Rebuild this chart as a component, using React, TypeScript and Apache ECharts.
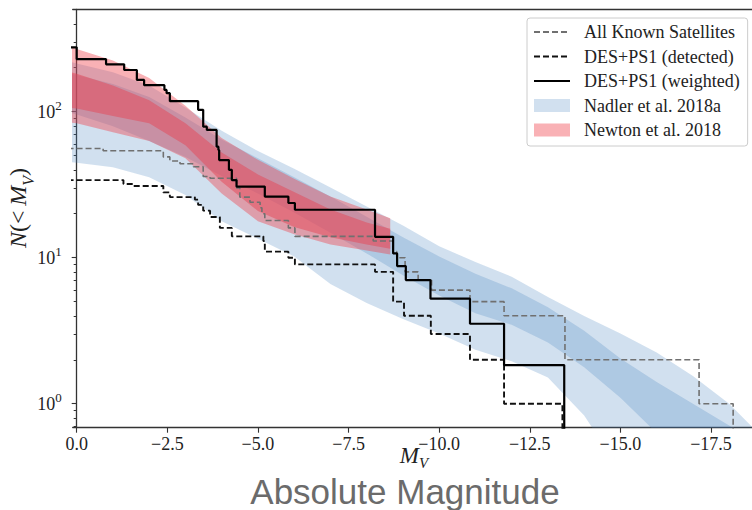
import React, { useEffect, useRef } from "react";
import * as echarts from "echarts";

const SERIF = "'Liberation Serif', 'DejaVu Serif', serif";
const TEXT = "#222222";

// Cumulative satellite counts N(<M_V). Each count holds from its edge towards brighter M_V.
const allKnownEdges = [0.5, -0.73, -2.39, -2.57, -2.85, -3.22, -3.49, -3.68, -4.41, -4.5, -4.78, -5.06, -5.11, -5.19, -5.84, -6.02, -8.18, -8.73, -8.83, -9.06, -9.42, -9.79, -10.85, -11.79, -13.47, -17.17, -18.11];
const allKnownCounts = [56, 54, 49, 46, 44, 42, 36, 35, 30, 26, 24, 22, 20, 18, 16, 14, 13, 11, 10, 8, 7, 6, 5, 4, 2, 1, 0];

const detectedEdges = [0.5, -1.29, -1.56, -2.39, -2.57, -3.26, -3.35, -3.49, -3.68, -3.95, -4.28, -5.15, -5.19, -5.84, -6.02, -8.23, -8.73, -9.03, -9.77, -10.85, -11.79, -13.4];
const detectedCounts = [34, 32, 31, 28, 26, 25, 23, 21, 19, 16, 14, 13, 11, 10, 9, 8, 5, 4, 3, 2, 1, 0];

const weightedEdges = [0.5, 0, -0.81, -1.31, -1.66, -1.86, -2.42, -2.48, -2.57, -3.35, -3.49, -3.59, -3.86, -3.91, -3.93, -4.2, -4.28, -4.41, -5.19, -5.84, -6.02, -8.23, -8.73, -8.84, -9.08, -9.76, -10.85, -11.79, -13.45];
const weightedCounts = [276, 229, 211, 193, 165, 152, 141, 134, 118, 103, 79, 75, 57.6, 54.7, 46.6, 40, 34, 30.7, 26.2, 23.7, 21.3, 13.9, 10.7, 8.76, 7.03, 5.24, 3.53, 1.84, 0];

// Nadler et al. 2018a prediction: outer and inner confidence bands
const nadlerMv = [0.3, 0, -1, -2, -3, -4, -5, -6, -7, -8, -9, -10, -11, -12, -13, -14, -15, -16, -17, -18, -19];
const nadlerOuterHigh = [224, 214, 186, 151, 107, 74.1, 53.7, 40.7, 30.2, 22.4, 16.6, 12.0, 9.33, 7.41, 5.37, 3.98, 3.02, 2.24, 1.55, 1.0, 0.56];
const nadlerOuterLow = [45.7, 44.7, 41.7, 35.5, 26.9, 17.8, 13.5, 10.2, 6.61, 4.9, 3.8, 3.02, 2.34, 1.95, 1.51, 0.83, 0.35, 0.2, 0.15, 0.1, 0.08];
const nadlerInnerHigh = [186, 178, 155, 126, 91.2, 64.6, 47.9, 35.5, 26.3, 19.1, 13.8, 10.2, 7.76, 6.17, 4.57, 3.16, 2.04, 1.41, 1.0, 0.71, 0.5];
const nadlerInnerLow = [100, 95.5, 79.4, 63.1, 49.0, 36.3, 27.5, 20.4, 14.8, 10.7, 7.59, 5.5, 4.17, 3.47, 2.63, 1.78, 1.1, 0.63, 0.4, 0.3, 0.2];

// Newton et al. 2018 prediction
const newtonMv = [0.3, 0, -1, -2, -3, -4, -5, -6, -7, -8, -8.65];
const newtonOuterHigh = [288, 269, 224, 170, 110, 66.1, 46.8, 34.7, 26.3, 21.4, 18.6];
const newtonOuterLow = [85.1, 83.2, 72.4, 63.1, 47.9, 27.5, 17.8, 14.5, 12.3, 11.2, 10.5];
const newtonInnerHigh = [191, 182, 151, 120, 83.2, 52.5, 37.2, 28.2, 21.4, 17.4, 15.8];
const newtonInnerLow = [107, 105, 93.3, 83.2, 58.9, 33.1, 20.9, 16.2, 13.8, 12.3, 11.5];

// Axes
const xTicks = [0, -2.5, -5, -7.5, -10, -12.5, -15, -17.5];
const yMajorTicks = [1, 10, 100];
const yMinorTicks = [0.7, 0.8, 0.9, 2, 3, 4, 5, 6, 7, 8, 9, 20, 30, 40, 50, 60, 70, 80, 90, 200, 300, 400, 500];
const X_MIN = -18.63;
const X_MAX = 0.11;
const Y_MIN = 0.685;
const Y_MAX = 502.6;

const NADLER_FILL = "rgba(70,130,190,0.25)";
const NEWTON_OUTER_FILL = "rgba(240,60,70,0.4)";
const NEWTON_INNER_FILL = "rgba(230,70,85,0.5)";

const GRID = { left: 72.7, top: 9.3, right: 0, bottom: 82.3 };

// A count of zero has no place on a log axis: send it below the visible range
const stepData = (edges: number[], counts: number[]) =>
  edges.map((e, i) => [e, counts[i] > 0 ? counts[i] : 0.05]);

const bandPolygon = (api: any, ms: number[], lo: number[], hi: number[], fill: string) => {
  const pts: number[][] = [];
  for (let i = 0; i < ms.length; i++) pts.push(api.coord([ms[i], hi[i]]));
  for (let i = ms.length - 1; i >= 0; i--) pts.push(api.coord([ms[i], lo[i]]));
  return { type: "polygon", shape: { points: pts }, style: { fill, stroke: "none" } };
};

const bandSeries = (
  name: string,
  ms: number[],
  outerLo: number[],
  outerHi: number[],
  innerLo: number[],
  innerHi: number[],
  outerFill: string,
  innerFill: string,
  legendColor: string,
  z: number
) => ({
  type: "custom",
  name,
  xAxisIndex: 0,
  yAxisIndex: 0,
  clip: true,
  silent: true,
  z,
  itemStyle: { color: legendColor },
  data: ms.map((m, i) => [m, outerLo[i], outerHi[i]]),
  encode: { x: 0, y: [1, 2] },
  renderItem: (params: any, api: any) => {
    if (params.dataIndex !== 0) return null;
    return {
      type: "group",
      children: [
        bandPolygon(api, ms, outerLo, outerHi, outerFill),
        bandPolygon(api, ms, innerLo, innerHi, innerFill),
      ],
    };
  },
});

const stepSeries = (name: string, edges: number[], counts: number[], lineStyle: any, z: number) => ({
  type: "line",
  name,
  xAxisIndex: 0,
  yAxisIndex: 0,
  data: stepData(edges, counts),
  step: "end",
  symbol: "none",
  showSymbol: false,
  clip: true,
  silent: true,
  z,
  lineStyle,
  emphasis: { disabled: true },
});

const fmtX = (v: number) => (v === 0 ? "0.0" : "\u2212" + Math.abs(v).toFixed(1));

const noMarker = { opacity: 0, color: "rgba(0,0,0,0)", borderColor: "rgba(0,0,0,0)", borderWidth: 0 };

const option: any = {
  animation: false,
  backgroundColor: "#ffffff",
  textStyle: { fontFamily: SERIF },
  grid: [
    { ...GRID, outerBoundsMode: "none", containLabel: false },
    { ...GRID, outerBoundsMode: "none", containLabel: false },
  ],
  xAxis: [
    {
      type: "value",
      gridIndex: 0,
      min: X_MIN,
      max: X_MAX,
      inverse: true,
      position: "bottom",
      axisLine: { show: true, lineStyle: { color: "#333333", width: 1.3 } },
      axisTick: { show: true, customValues: xTicks, length: 5, lineStyle: { color: "#333333", width: 1.1 } },
      axisLabel: {
        customValues: xTicks,
        formatter: fmtX,
        fontFamily: SERIF,
        fontSize: 18,
        color: TEXT,
        margin: 7,
      },
      splitLine: { show: false },
    },
    {
      type: "value",
      gridIndex: 0,
      min: X_MIN,
      max: X_MAX,
      inverse: true,
      position: "top",
      axisLine: { show: true, lineStyle: { color: "#333333", width: 1.3 } },
      axisTick: { show: false },
      axisLabel: { show: false },
      splitLine: { show: false },
    },
    {
      type: "value",
      gridIndex: 1,
      min: X_MIN,
      max: X_MAX,
      inverse: true,
      show: false,
    },
  ],
  yAxis: [
    {
      type: "log",
      logBase: 10,
      gridIndex: 0,
      min: Y_MIN,
      max: Y_MAX,
      position: "left",
      axisLine: { show: true, lineStyle: { color: "#333333", width: 1.3 } },
      axisTick: { show: true, customValues: yMajorTicks, length: 5, lineStyle: { color: "#333333", width: 1.1 } },
      axisLabel: {
        customValues: yMajorTicks,
        formatter: (v: number) => `{b|10}{s|${Math.round(Math.log10(v))}}`,
        margin: 11,
        rich: {
          b: { fontFamily: SERIF, fontSize: 18, color: TEXT, padding: [4, 0, 4, 0], verticalAlign: "top" },
          s: { fontFamily: SERIF, fontSize: 13, color: TEXT, verticalAlign: "top" },
        },
      },
      splitLine: { show: false },
      minorTick: { show: false },
    },
    {
      type: "log",
      logBase: 10,
      gridIndex: 1,
      min: Y_MIN,
      max: Y_MAX,
      position: "left",
      axisLine: { show: false },
      axisTick: { show: true, customValues: yMinorTicks, length: 3, lineStyle: { color: "#333333", width: 1 } },
      axisLabel: { show: false },
      splitLine: { show: false },
    },
  ],
  legend: {
    orient: "vertical",
    left: 527,
    top: 18,
    padding: [5, 8, 7, 6],
    backgroundColor: "rgba(255,255,255,0.85)",
    borderColor: "#cccccc",
    borderWidth: 1,
    borderRadius: 3,
    itemWidth: 36,
    itemHeight: 13,
    itemGap: 6.5,
    selectedMode: false,
    formatter: (name: string) => `{t|${name}}`,
    textStyle: {
      fontFamily: SERIF,
      fontSize: 18,
      color: TEXT,
      rich: {
        t: { fontFamily: SERIF, fontSize: 18, color: TEXT, lineHeight: 18, padding: [0, 0, 0, 9] },
      },
    },
    data: [
      { name: "All Known Satellites", itemStyle: noMarker },
      { name: "DES+PS1 (detected)", itemStyle: noMarker },
      { name: "DES+PS1 (weighted)", itemStyle: noMarker },
      { name: "Nadler et al. 2018a", icon: "rect", itemStyle: { color: "#d1e0ef" } },
      { name: "Newton et al. 2018", icon: "rect", itemStyle: { color: "#f9b1b5" } },
    ],
  },
  graphic: [
    {
      type: "text",
      x: 21,
      y: 208,
      rotation: Math.PI / 2,
      silent: true,
      style: {
        text: "{i|N}{r|(<\u2009}{i|M}{sub|V}{r|)}",
        align: "center",
        verticalAlign: "middle",
        rich: {
          i: { fontFamily: SERIF, fontStyle: "italic", fontSize: 24, fill: TEXT, padding: [0, 0, 6, 0], verticalAlign: "bottom" },
          r: { fontFamily: SERIF, fontSize: 24, fill: TEXT, padding: [0, 0, 6, 0], verticalAlign: "bottom" },
          sub: { fontFamily: SERIF, fontStyle: "italic", fontSize: 16, fill: TEXT, verticalAlign: "bottom" },
        },
      },
    },
    {
      type: "text",
      x: 414,
      y: 459,
      silent: true,
      style: {
        text: "{m|M}{v|V}",
        align: "center",
        verticalAlign: "middle",
        rich: {
          m: { fontFamily: SERIF, fontStyle: "italic", fontSize: 23, lineHeight: 23, fill: TEXT, padding: [0, 0, 4, 0], verticalAlign: "bottom" },
          v: { fontFamily: SERIF, fontStyle: "italic", fontSize: 15, lineHeight: 15, fill: TEXT, verticalAlign: "bottom" },
        },
      },
    },
    {
      type: "text",
      x: 405,
      y: 491,
      silent: true,
      style: {
        text: "Absolute Magnitude",
        fontFamily: "'Liberation Sans', Arial, sans-serif",
        fontSize: 35,
        lineHeight: 32,
        fill: "#6b6b6b",
        align: "center",
        verticalAlign: "middle",
      },
    },
  ],
  series: [
    bandSeries("Nadler et al. 2018a", nadlerMv, nadlerOuterLow, nadlerOuterHigh, nadlerInnerLow, nadlerInnerHigh, NADLER_FILL, NADLER_FILL, "#d1e0ef", 1),
    bandSeries("Newton et al. 2018", newtonMv, newtonOuterLow, newtonOuterHigh, newtonInnerLow, newtonInnerHigh, NEWTON_OUTER_FILL, NEWTON_INNER_FILL, "#f9b1b5", 2),
    stepSeries("All Known Satellites", allKnownEdges, allKnownCounts, { color: "#707070", width: 1.6, type: [6, 3] }, 3),
    stepSeries("DES+PS1 (detected)", detectedEdges, detectedCounts, { color: "#111111", width: 1.9, type: [6, 3] }, 4),
    stepSeries("DES+PS1 (weighted)", weightedEdges, weightedCounts, { color: "#000000", width: 2.2, type: "solid" }, 5),
  ],
};

export default function App() {
  const ref = useRef<HTMLDivElement>(null);
  useEffect(() => {
    document.body.style.margin = "0";
    const chart = echarts.init(ref.current as HTMLDivElement, null, { renderer: "svg" });
    chart.setOption(option);
    return () => chart.dispose();
  }, []);
  return <div ref={ref} style={{ width: 752, height: 510 }} />;
}
